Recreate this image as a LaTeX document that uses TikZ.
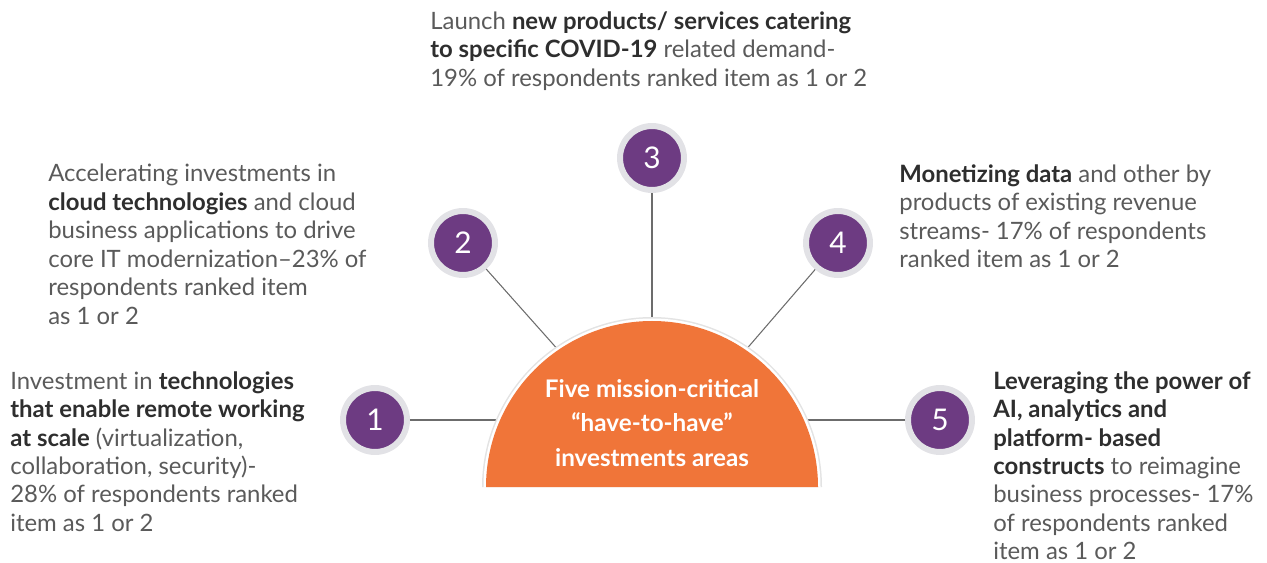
\documentclass[tikz,border=0pt]{standalone}
\usepackage{fontspec}
\setmainfont{Lato}
\usepackage{xcolor}
\usetikzlibrary{positioning,calc}
\definecolor{areaorange}{HTML}{F07539}
\definecolor{numpurple}{HTML}{6D3B82}
\definecolor{ringgray}{HTML}{E2E2E6}
\definecolor{bodygray}{HTML}{5A5A5A}
\definecolor{headgray}{HTML}{2E2E2E}
\newcommand{\hl}[1]{\textbf{\color{headgray}#1}}
\tikzset{%
    % Specifications for style of nodes:
    numball/.style = {
        circle, fill=numpurple, draw=ringgray, line width=0.12cm,
        minimum size=1.28cm, inner sep=0pt,
        text=white, font=\fontsize{17}{17}\selectfont
    },
    itemtext/.style = {
        anchor=north west, inner sep=0pt, align=left,
        text=bodygray, font=\fontsize{13.6}{16.2}\selectfont
    },
    spoke/.style = {draw=gray!85!black, line width=0.6pt}
}

\begin{document}
\begin{tikzpicture}[x=0.02cm, y=-0.02cm]
    \useasboundingbox (0,0) rectangle (1267,563);
    % number balls
    \node[numball] (B1) at (375,420) {1};
    \node[numball] (B2) at (463,243) {2};
    \node[numball] (B3) at (652,158) {3};
    \node[numball] (B4) at (838,243) {4};
    \node[numball] (B5) at (940,420) {5};
    % ends of the spokes on the half disc
    \coordinate (E1) at (500,420);
    \coordinate (E2) at (560,352);
    \coordinate (E3) at (652,330);
    \coordinate (E4) at (744,352);
    \coordinate (E5) at (804,420);
    \foreach \i in {1,...,5}
        \draw[spoke] (B\i) -- (E\i);
    % half disc
    \fill[gray!22] (482,487) arc[start angle=180, end angle=360, radius=170] -- cycle;
    \fill[white] (483.5,487) arc[start angle=180, end angle=360, radius=168.5] -- cycle;
    \fill[areaorange] (486,487) arc[start angle=180, end angle=360, radius=166] -- cycle;
    \node[text=white, font=\bfseries\fontsize{13.8}{19.8}\selectfont, align=center] (core) at (652,423)
        {Five mission-critical\\``have-to-have''\\investments areas};
    % item texts
    \node[itemtext] (T1) at (10,371) {Investment in \hl{technologies}\\\hl{that enable remote working}\\\hl{at scale} (virtualization,\\collaboration, security)-\\28\% of respondents ranked\\item as 1 or 2};
    \node[itemtext] (T2) at (48,164) {Accelerating investments in\\\hl{cloud technologies} and cloud\\business applications to drive\\core IT modernization--23\% of\\respondents ranked item\\as 1 or 2};
    \node[itemtext] (T3) at (430,11) {Launch \hl{new products/ services catering}\\\hl{to specific COVID-19} related demand-\\19\% of respondents ranked item as 1 or 2};
    \node[itemtext] (T4) at (899,164) {\hl{Monetizing data} and other by\\products of existing revenue\\streams- 17\% of respondents\\ranked item as 1 or 2};
    \node[itemtext] (T5) at (993,371) {\hl{Leveraging the power of}\\\hl{AI, analytics and}\\\hl{platform- based}\\\hl{constructs} to reimagine\\business processes- 17\%\\of respondents ranked\\item as 1 or 2};
\end{tikzpicture}
\end{document}
